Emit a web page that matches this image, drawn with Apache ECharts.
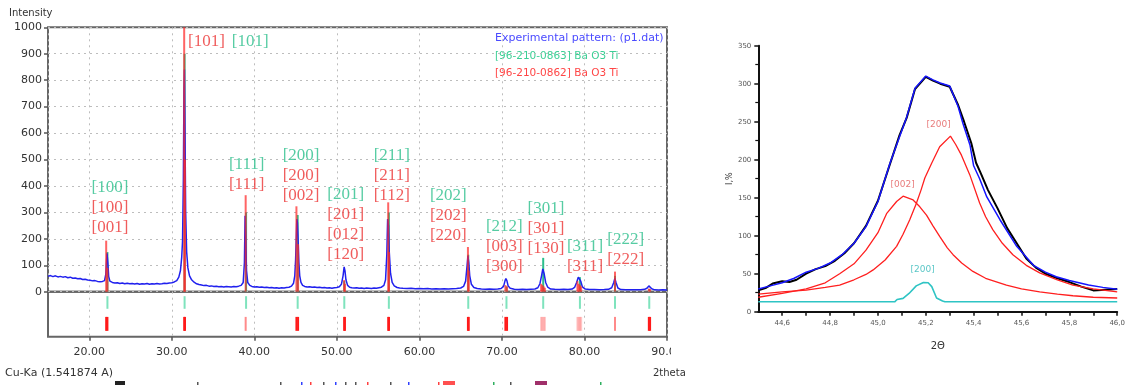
<!DOCTYPE html>
<html>
<head>
<meta charset="utf-8">
<script src="https://cdn.jsdelivr.net/npm/echarts@6/dist/echarts.min.js"></script>
<style>
  html, body { margin: 0; padding: 0; background: #fff; }
  #chart { width: 1128px; height: 385px; }
</style>
</head>
<body>
<div id="chart"></div>
<script>
// ---------- XRD scan (Cu-Ka), 2theta vs intensity ----------
const scan = [
  [15.0,58],[15.3,61],[15.6,57],[15.9,60],[16.2,56],[16.5,58],[16.8,55],[17.1,57],[17.4,53],[17.7,55],
  [18.0,51],[18.3,52],[18.6,49],[18.9,50],[19.2,46],[19.5,47],[19.8,44],[20.1,43],[20.4,41],[20.7,42],
  [21.0,39],[21.3,38],[21.6,39],[21.85,42],[22.0,65],[22.1,120],[22.15,145],[22.25,110],[22.35,58],[22.5,40],
  [22.8,35],[23.1,33],[23.4,34],[23.7,31],[24.0,33],[24.3,30],[24.6,32],[24.9,30],[25.2,31],[25.5,29],
  [25.8,31],[26.1,28],[26.4,30],[26.7,29],[27.0,31],[27.3,28],[27.6,30],[27.9,29],[28.2,31],[28.5,29],
  [28.8,30],[29.1,32],[29.4,31],[29.7,33],[30.0,34],[30.3,37],[30.6,42],[30.85,55],[31.05,80],[31.2,130],
  [31.3,190],[31.4,420],[31.47,760],[31.53,840],[31.6,600],[31.68,300],[31.8,150],[31.95,90],[32.15,60],[32.4,45],
  [32.7,36],[33.0,30],[33.3,27],[33.6,25],[33.9,23],[34.2,24],[34.5,21],[34.8,22],[35.1,20],[35.4,21],
  [35.7,19],[36.0,20],[36.3,18],[36.6,20],[36.9,19],[37.2,18],[37.5,20],[37.8,19],[38.1,21],[38.4,24],
  [38.65,35],[38.8,110],[38.88,287],[38.96,200],[39.05,80],[39.2,35],[39.45,24],[39.7,20],[40.0,18],[40.3,19],
  [40.6,17],[40.9,18],[41.2,16],[41.5,17],[41.8,15],[42.1,16],[42.4,14],[42.7,15],[43.0,13],[43.3,15],
  [43.6,14],[43.9,16],[44.2,17],[44.5,21],[44.75,32],[44.9,60],[45.0,120],[45.08,200],[45.15,275],[45.22,260],
  [45.3,200],[45.4,110],[45.5,60],[45.65,35],[45.85,24],[46.1,20],[46.4,18],[46.7,19],[47.0,17],[47.3,18],
  [47.6,16],[47.9,17],[48.2,15],[48.5,16],[48.8,14],[49.1,15],[49.4,13],[49.7,15],[50.0,16],[50.3,19],
  [50.55,28],[50.75,60],[50.88,94],[50.98,80],[51.1,45],[51.3,24],[51.55,17],[51.8,15],[52.1,14],[52.4,15],
  [52.7,13],[53.0,14],[53.3,12],[53.6,14],[53.9,13],[54.2,12],[54.5,14],[54.8,13],[55.1,15],[55.4,17],
  [55.7,24],[55.9,45],[56.05,140],[56.15,275],[56.25,250],[56.35,150],[56.5,70],[56.7,35],[56.95,22],[57.3,16],
  [57.6,14],[58.0,13],[58.5,12],[59.0,13],[59.5,11],[60.0,12],[60.5,11],[61.0,12],[61.5,10],[62.0,11],
  [62.5,10],[63.0,11],[63.5,10],[64.0,11],[64.5,12],[65.0,14],[65.35,20],[65.6,40],[65.78,100],[65.88,136],
  [65.98,110],[66.1,60],[66.3,28],[66.6,16],[67.0,12],[67.5,10],[68.0,9],[68.5,10],[69.0,9],[69.5,10],
  [69.9,12],[70.2,20],[70.38,42],[70.48,50],[70.6,42],[70.75,22],[71.0,13],[71.5,9],[72.0,8],[72.5,9],
  [73.0,8],[73.5,9],[74.0,10],[74.35,15],[74.6,30],[74.8,60],[74.95,86],[75.1,70],[75.3,35],[75.55,17],
  [75.9,10],[76.4,9],[77.0,8],[77.5,9],[78.0,8],[78.5,10],[78.8,16],[79.05,35],[79.25,55],[79.4,60],
  [79.55,40],[79.75,18],[80.1,10],[80.6,8],[81.2,8],[81.8,7],[82.4,8],[82.9,9],[83.3,15],[83.55,35],
  [83.68,50],[83.82,35],[84.05,14],[84.4,8],[85.0,7],[85.6,7],[86.2,7],[86.8,7],[87.3,9],[87.6,14],
  [87.8,22],[87.95,20],[88.15,11],[88.5,7],[89.0,6],[89.5,7],[90.0,6]
];

// reference card 96-210-0863 (Ba O3 Ti): positions and heights
const card0863Pos    = [22.2, 31.55, 39.0, 45.25, 50.9, 56.3, 65.92, 70.55, 75.0, 79.45, 83.7, 87.85];
const card0863Height = [150, 900, 300, 290, 40, 300, 140, 20, 128, 55, 60, 10];

// reference card 96-210-0862 (Ba O3 Ti): positions and heights
const card0862Pos    = [22.05, 22.2, 31.5, 31.6, 38.95, 45.1, 45.3, 50.88, 50.98, 56.22, 56.32, 65.88, 65.98,
                        70.42, 70.62, 74.75, 74.9, 75.05, 75.2, 79.15, 79.3, 79.45, 79.6, 83.7, 87.8, 87.95];
const card0862Height = [193, 90, 1000, 500, 365, 323, 180, 44, 30, 338, 150, 169, 80,
                        25, 20, 30, 25, 20, 15, 40, 30, 25, 20, 76, 12, 10];
// weak 0862 reflections (paler in the marker strip): single lines and close clusters
const card0862Weak    = [38.95, 83.7];
const card0862Cluster = [74.75, 74.9, 75.05, 75.2, 79.15, 79.3, 79.45, 79.6];

// Miller-index stacks: [2theta, intensity of lowest line, 0863 indices, 0862 indices]
const hklStacks = [
  [22.51, 243, ['[100]'], ['[100]', '[001]']],
  [39.08, 407, ['[111]'], ['[111]']],
  [45.66, 362, ['[200]'], ['[200]', '[002]']],
  [51.07, 139, ['[201]'], ['[201]', '[012]', '[120]']],
  [56.65, 365, ['[211]'], ['[211]', '[112]']],
  [63.50, 211, ['[202]'], ['[202]', '[220]']],
  [70.29, 95,  ['[212]'], ['[003]', '[300]']],
  [75.34, 164, ['[301]'], ['[301]', '[130]']],
  [80.07, 95,  ['[311]'], ['[311]']],
  [85.00, 120, ['[222]'], ['[222]']]
];
// the (101) pair beside the strongest line: [2theta, intensity, text, card]
const hkl101 = [[34.2, 948, '[101]', '0862'], [39.5, 948, '[101]', '0863']];

const scanTicks = [20, 30, 40, 50, 60, 70, 80, 90];

// ---------- profile fit of the 45° region ----------
const fitX0 = 44.5, fitX1 = 46.0;
const fitLabels = [44.6, 44.8, 45.0, 45.2, 45.4, 45.6, 45.8, 46.0];
const fitTicks  = [44.6, 44.7, 44.8, 44.9, 45.0, 45.1, 45.2, 45.3, 45.4, 45.5, 45.6, 45.7, 45.8, 45.9, 46.0];

const measured = [
  [44.50,28],[44.53,31],[44.56,37],[44.60,40],[44.63,39],[44.66,42],[44.70,50],[44.74,56],[44.78,60],[44.82,67],
  [44.86,77],[44.90,90],[44.95,113],[45.00,146],[45.05,194],[45.09,232],[45.12,255],[45.155,293],[45.20,309],[45.23,304],
  [45.26,300],[45.30,296],[45.335,272],[45.36,250],[45.39,222],[45.41,196],[45.43,182],[45.46,160],[45.50,136],[45.54,110],
  [45.58,90],[45.62,70],[45.66,58],[45.70,50],[45.75,44],[45.80,39],[45.85,33],[45.90,28],[45.95,29],[46.00,30]
];
const fitSum = [
  [44.50,30],[44.55,34],[44.60,38],[44.65,44],[44.70,52],[44.75,57],[44.80,64],[44.85,75],[44.90,90],[44.95,112],
  [45.00,145],[45.05,195],[45.09,230],[45.12,256],[45.155,294],[45.20,310],[45.23,305],[45.26,301],[45.30,297],[45.335,270],
  [45.355,248],[45.385,219],[45.40,192],[45.425,175],[45.455,151],[45.51,121],[45.58,86],[45.65,61],[45.70,52],[45.745,46],
  [45.80,41],[45.88,35],[45.94,32],[46.00,29.5]
];
const peak002 = [
  [44.50,19],[44.60,24],[44.70,30],[44.78,38],[44.84,50],[44.90,63],[44.95,81],[45.00,104],[45.036,129],[45.078,145],
  [45.105,152],[45.147,147],[45.175,138],[45.203,127],[45.23,113],[45.258,99],[45.29,84],[45.314,75],[45.35,64],[45.397,53],
  [45.45,44],[45.537,35],[45.60,30],[45.676,26],[45.75,23],[45.815,21],[45.90,19],[46.00,18]
];
const peak200 = [
  [44.50,23],[44.60,26],[44.70,28.5],[44.78,32],[44.84,35],[44.90,42],[44.95,49],[44.98,55],[45.03,68],[45.078,86],
  [45.105,102],[45.133,121],[45.16,142],[45.18,160],[45.196,176],[45.224,195],[45.258,217],[45.303,231],[45.325,220],[45.349,206],
  [45.384,180],[45.425,143],[45.45,125],[45.48,108],[45.52,90],[45.564,75],[45.62,61],[45.676,51],[45.75,42],[45.815,35],
  [45.90,30],[46.00,26]
];
const peak200c = [
  [44.50,13],[45.07,13],[45.08,16],[45.105,17.5],[45.13,24],[45.16,34],[45.19,38.5],[45.21,38],[45.225,33],[45.245,18],
  [45.27,14],[45.28,13],[46.00,13]
];
const fitTags = [[45.103, 167, '[002]', 'red'], [45.254, 246, '[200]', 'red'], [45.187, 55, '[200]', 'cyan']];

// ---------- styling ----------
const GREEN = '#2cbf8c', RED = '#ec3535', BLUE = '#2020ee';
const SANS = 'DejaVu Sans';
const SERIF = 'Liberation Serif';

function stickSeries(pos, height, color, width, z) {
  return {
    type: 'custom', xAxisIndex: 0, yAxisIndex: 0, z, silent: true,
    data: pos.map((p, i) => [p, height[i]]),
    renderItem: (params, api) => {
      const a = api.coord([api.value(0), 0]);
      const b = api.coord([api.value(0), api.value(1)]);
      return { type: 'line', shape: { x1: a[0], y1: a[1], x2: b[0], y2: b[1] },
               style: { stroke: color, lineWidth: width } };
    }
  };
}

function markerSeries(pos, lo, hi, colorOf, width) {
  return {
    type: 'custom', xAxisIndex: 1, yAxisIndex: 1, z: 3, silent: true,
    data: pos.map(p => [p]),
    renderItem: (params, api) => {
      const x = api.value(0);
      const a = api.coord([x, lo]);
      const b = api.coord([x, hi]);
      return { type: 'line', shape: { x1: a[0], y1: a[1], x2: b[0], y2: b[1] },
               style: { stroke: colorOf(x), lineWidth: width } };
    }
  };
}

function redMarkerColor(x) {
  if (card0862Cluster.includes(x)) return 'rgba(255,70,70,0.32)';
  if (card0862Weak.includes(x)) return 'rgba(255,60,60,0.6)';
  return '#ff1a1a';
}

// Miller-index labels: stacked upward from the anchor, 0862 below 0863
const hklData = [];
hklStacks.forEach(([x, y, g, r]) => {
  const lines = [...g.map(t => [t, GREEN]), ...r.map(t => [t, RED])];
  lines.forEach(([t, c], i) => {
    const level = lines.length - 1 - i;
    hklData.push({ value: [x, y], label: { formatter: t, color: c, offset: [0, -20 * level] } });
  });
});
hkl101.forEach(([x, y, t, card]) => {
  hklData.push({ value: [x, y], label: { formatter: t, color: card === '0862' ? RED : GREEN } });
});

const fitTagData = fitTags.map(([x, y, t, c]) => ({
  value: [x, y],
  label: { formatter: t, color: c === 'red' ? '#e25a5a' : '#2fb8b8' }
}));

const dotted = { show: true, lineStyle: { color: '#bdbdbd', type: [2, 4], width: 1 } };

const option = {
  animation: false,
  backgroundColor: '#fff',
  grid: [
    { left: 48, top: 27.3, width: 619, height: 264.4, show: true, borderColor: '#666', borderWidth: 2, backgroundColor: 'transparent' },
    { left: 48, top: 291.7, width: 619, height: 45, show: true, borderColor: '#666', borderWidth: 2, backgroundColor: 'transparent' },
    { left: 758.3, top: 45.7, width: 359.4, height: 266 }
  ],
  xAxis: [
    { gridIndex: 0, type: 'value', min: 15, max: 90, splitNumber: 7,
      axisLine: { show: false }, axisTick: { show: false }, axisLabel: { show: false }, splitLine: dotted },
    { gridIndex: 1, type: 'value', min: 15, max: 90, splitNumber: 7,
      axisLine: { show: false },
      axisTick: { show: true, length: 4, lineStyle: { color: '#555', width: 1.5 }, customValues: scanTicks },
      axisLabel: { customValues: scanTicks, formatter: v => v.toFixed(2), margin: 10,
                   fontFamily: SANS, fontSize: 11, color: '#333' },
      splitLine: dotted },
    { gridIndex: 2, type: 'value', min: fitX0, max: fitX1, splitNumber: 7,
      name: '2Θ', nameLocation: 'middle', nameGap: 30,
      nameTextStyle: { fontFamily: SANS, fontSize: 10, color: '#333' },
      axisLine: { show: true, lineStyle: { color: '#111', width: 2 } },
      axisTick: { show: true, length: 4, lineStyle: { color: '#111', width: 1.5 }, customValues: fitTicks },
      axisLabel: { customValues: fitLabels, formatter: v => v.toFixed(1).replace('.', ','), margin: 8,
                   fontFamily: SANS, fontSize: 7, color: '#555' },
      splitLine: { show: false } }
  ],
  yAxis: [
    { gridIndex: 0, type: 'value', min: 0, max: 1000, interval: 100,
      axisLine: { show: false },
      axisTick: { show: true, length: 4, lineStyle: { color: '#555', width: 1.5 } },
      axisLabel: { formatter: v => String(v), fontFamily: SANS, fontSize: 11, color: '#333', margin: 6 },
      splitLine: dotted },
    { gridIndex: 1, type: 'value', min: 0, max: 1, show: false, splitLine: { show: false } },
    { gridIndex: 2, type: 'value', min: 0, max: 350, interval: 50,
      name: 'I,%', nameLocation: 'middle', nameGap: 18, nameRotate: 90,
      nameTextStyle: { fontFamily: SANS, fontSize: 8, color: '#333' },
      axisLine: { show: true, lineStyle: { color: '#111', width: 2 } },
      axisTick: { show: true, length: 4, lineStyle: { color: '#111', width: 1.5 } },
      minorTick: { show: true, splitNumber: 2, length: 3, lineStyle: { color: '#111', width: 1.2 } },
      axisLabel: { formatter: v => String(v), fontFamily: SANS, fontSize: 7, color: '#555', margin: 7 },
      splitLine: { show: false } }
  ],
  series: [
    stickSeries(card0863Pos, card0863Height, GREEN, 2, 2),
    { type: 'line', xAxisIndex: 0, yAxisIndex: 0, z: 3, data: scan, showSymbol: false, silent: true,
      lineStyle: { color: BLUE, width: 1.5 } },
    stickSeries(card0862Pos, card0862Height, 'rgba(255,40,40,0.72)', 2, 4),
    markerSeries(card0863Pos, 0.62, 0.9, () => '#7fe3bd', 2),
    markerSeries(card0862Pos, 0.13, 0.44, redMarkerColor, 2),
    { type: 'scatter', xAxisIndex: 0, yAxisIndex: 0, z: 6, silent: true, symbolSize: 1,
      itemStyle: { color: 'rgba(0,0,0,0)' }, data: hklData,
      label: { show: true, position: 'inside', fontFamily: SERIF, fontSize: 17 } },

    { type: 'line', xAxisIndex: 2, yAxisIndex: 2, z: 2, data: measured, showSymbol: false, silent: true,
      lineStyle: { color: '#000', width: 2 } },
    { type: 'line', xAxisIndex: 2, yAxisIndex: 2, z: 3, data: fitSum, showSymbol: false, silent: true,
      lineStyle: { color: '#1515ff', width: 1.5 } },
    { type: 'line', xAxisIndex: 2, yAxisIndex: 2, z: 3, data: peak002, showSymbol: false, silent: true,
      lineStyle: { color: '#ff1f1f', width: 1.3 } },
    { type: 'line', xAxisIndex: 2, yAxisIndex: 2, z: 3, data: peak200, showSymbol: false, silent: true,
      lineStyle: { color: '#ff1f1f', width: 1.3 } },
    { type: 'line', xAxisIndex: 2, yAxisIndex: 2, z: 3, data: peak200c, showSymbol: false, silent: true,
      lineStyle: { color: '#2ec4c4', width: 1.6 } },
    { type: 'scatter', xAxisIndex: 2, yAxisIndex: 2, z: 6, silent: true, symbolSize: 1,
      itemStyle: { color: 'rgba(0,0,0,0)' }, data: fitTagData,
      label: { show: true, position: 'inside', fontFamily: SANS, fontSize: 9 } }
  ],
  graphic: [
    { type: 'text', x: 9, y: 13, style: { text: 'Intensity', font: '10px "DejaVu Sans"', fill: '#333', textVerticalAlign: 'middle' } },
    { type: 'text', x: 495, y: 38, style: { text: 'Experimental pattern: (p1.dat)', font: '11px "DejaVu Sans"', fill: '#4a4aff', textVerticalAlign: 'middle' } },
    { type: 'text', x: 495, y: 56, style: { text: '[96-210-0863] Ba O3 Ti', font: '10.5px "DejaVu Sans"', fill: '#3ccf95', textVerticalAlign: 'middle' } },
    { type: 'text', x: 495, y: 73, style: { text: '[96-210-0862] Ba O3 Ti', font: '10.5px "DejaVu Sans"', fill: '#ff4545', textVerticalAlign: 'middle' } },
    { type: 'text', x: 5, y: 373, style: { text: 'Cu-Ka (1.541874 A)', font: '11px "DejaVu Sans"', fill: '#333', textVerticalAlign: 'middle' } },
    { type: 'text', x: 653, y: 373, style: { text: '2theta', font: '10px "DejaVu Sans"', fill: '#333', textVerticalAlign: 'middle' } },
    // the scan panel ends at x = 671; the last axis label is cut there
    { type: 'rect', shape: { x: 671, y: 341, width: 40, height: 22 }, style: { fill: '#fff' }, z: 100 },
    // top edge of the peak-list row below the scan panel
    { type: 'rect', shape: { x: 115, y: 381, width: 10, height: 4 }, style: { fill: '#222' }, z: 100 },
    { type: 'rect', shape: { x: 443, y: 381, width: 12, height: 4 }, style: { fill: '#ff5050' }, z: 100 },
    { type: 'rect', shape: { x: 535, y: 381, width: 12, height: 4 }, style: { fill: '#a0306a' }, z: 100 },
    ...[[197,'#555'],[280,'#555'],[301,'#3040ff'],[310,'#ff4040'],[323,'#555'],[335,'#3040ff'],[345,'#555'],
        [355,'#555'],[367,'#ff4040'],[390,'#555'],[408,'#3040ff'],[438,'#ff4040'],[493,'#30b060'],[510,'#555'],[600,'#30b060']]
      .map(([x, c]) => ({ type: 'rect', shape: { x, y: 382, width: 1.5, height: 3 }, style: { fill: c }, z: 100 }))
  ]
};

const chart = echarts.init(document.getElementById('chart'), null, { renderer: 'canvas' });
chart.setOption(option);
</script>
</body>
</html>
